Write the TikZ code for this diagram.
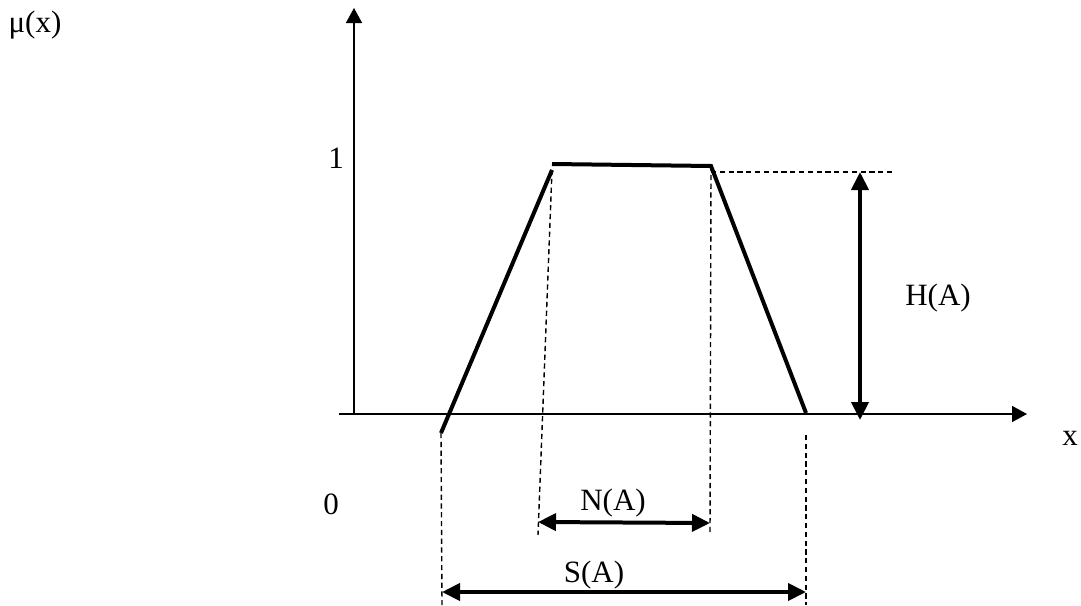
\documentclass[tikz,border=0pt]{standalone}
\usepackage{fontspec}
\setmainfont{Liberation Serif}
\usetikzlibrary{arrows.meta}

\begin{document}
\begin{tikzpicture}[x=0.5pt, y=-0.5pt,
  axis/.style={-{Triangle[length=7.5pt, width=8pt]}, line width=0.75pt},
  memb/.style={line width=2pt},
  guide/.style={dash pattern=on 2.6pt off 1.8pt, line width=0.7pt},
  dim/.style={{Triangle[length=9pt, width=8.5pt]}-{Triangle[length=9pt, width=8.5pt]}, line width=2pt},
  lbl/.style={font=\fontsize{15.5}{18}\selectfont, inner sep=0pt}
]
\useasboundingbox (0,0) rectangle (1081,605);
% --- axes ---
\coordinate (yfoot) at (354,414);
\coordinate (ytip)  at (354,8);
\coordinate (xfoot) at (339,414);
\coordinate (xtip)  at (1027,414);
\draw[axis] (yfoot) -- (ytip);
\draw[axis] (xfoot) -- (xtip);
\node[lbl] (mu)   at (35,25)   {μ(x)};
\node[lbl] (one)  at (336,158) {1};
\node[lbl] (zero) at (331,504) {0};
\node[lbl] (xlab) at (1070,438) {x};
% --- trapezoid ---
\coordinate (a)  at (441,433);
\coordinate (b)  at (552,170);
\coordinate (bt) at (552,164);
\coordinate (c)  at (711,166);
\coordinate (d)  at (806,413);
\draw[memb] (a) -- (b);
\draw[memb] (bt) -- (c) -- (d);
% --- guides ---
\coordinate (nl) at (538,535);
\coordinate (nr) at (710,535);
\coordinate (hl) at (711,172);
\coordinate (hr) at (893,172);
\coordinate (sl) at (442,605);
\coordinate (dr) at (806,435);
\coordinate (sr) at (806,605);
\draw[guide] (b) -- (nl);
\draw[guide] (c) -- (nr);
\draw[guide] (hl) -- (hr);
\draw[guide] (a) -- (sl);
\draw[guide] (dr) -- (sr);
% --- H(A), N(A), S(A) ---
\coordinate (htop) at (860,172);
\coordinate (hbot) at (860,420);
\coordinate (nleft)  at (538,522);
\coordinate (nright) at (710,523);
\coordinate (sleft)  at (442,592);
\coordinate (sright) at (806,592);
\draw[dim] (htop) -- (hbot);
\draw[dim] (nleft) -- (nright);
\draw[dim] (sleft) -- (sright);
\node[lbl] (hA) at (938,298) {H(A)};
\node[lbl] (nA) at (613,503) {N(A)};
\node[lbl] (sA) at (594,575) {S(A)};
\end{tikzpicture}
\end{document}
